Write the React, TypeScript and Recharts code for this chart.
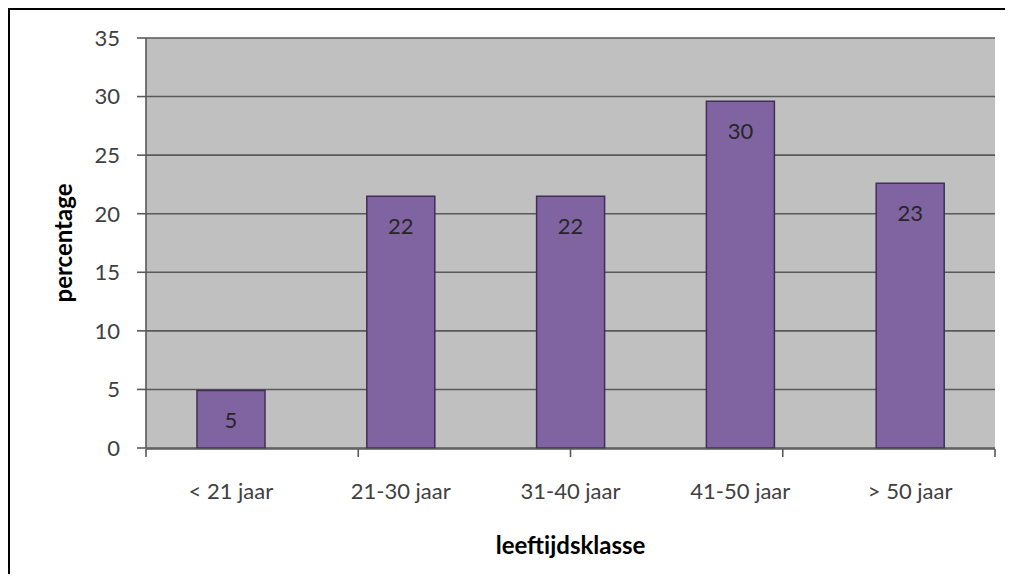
import { Bar, BarChart, CartesianGrid, LabelList, XAxis, YAxis } from "recharts";

const categories = ["< 21 jaar", "21-30 jaar", "31-40 jaar", "41-50 jaar", "> 50 jaar"];
const percentages = [4.9, 21.5, 21.5, 29.6, 22.6];
const yTicks = [0, 5, 10, 15, 20, 25, 30, 35];
const edgeTicks = [0, 1, 2, 3, 4, 5];

const data = categories.map((name, i) => ({ name, value: percentages[i] }));

const font = "Lato, 'Open Sans', sans-serif";
const tickStyle = { fontSize: 22, fill: "#404040", fontFamily: font };
const titleStyle = { fontSize: 24, fontWeight: "bold", fill: "#000", fontFamily: font };
const gridColor = "#595959";

export default function App() {
  return (
    <div style={{ position: "relative", width: 1005, height: 574, marginBottom: -8, overflow: "hidden" }}>
      <BarChart
        width={1005}
        height={574}
        data={data}
        accessibilityLayer={false}
        margin={{ top: 30, right: 18, left: 20, bottom: 25 }}
      >
        <CartesianGrid
          vertical={false}
          fill="#C0C0C0"
          stroke={gridColor}
          strokeWidth={1.6}
          xAxisId="cat"
        />
        <XAxis
          xAxisId="cat"
          dataKey="name"
          height={1}
          axisLine={false}
          tickLine={false}
          tickSize={0}
          tickMargin={35}
          tick={tickStyle}
          interval={0}
        />
        <XAxis
          xAxisId="edges"
          type="number"
          domain={[0, 5]}
          ticks={edgeTicks}
          allowDataOverflow
          height={108}
          stroke={gridColor}
          strokeWidth={1.6}
          tickSize={8}
          tickLine={{ stroke: gridColor, strokeWidth: 1.6 }}
          tickFormatter={() => ""}
          label={{
            value: "leeftijdsklasse",
            position: "insideBottom",
            offset: 3,
            style: titleStyle,
          }}
        />
        <YAxis
          domain={[0, 35]}
          ticks={yTicks}
          width={118}
          stroke={gridColor}
          strokeWidth={1.6}
          tickSize={9}
          tickMargin={17}
          tick={tickStyle}
          label={{
            content: ({ viewBox }: any) => {
              const cx = viewBox.x + 34;
              const cy = viewBox.y + viewBox.height / 2;
              return (
                <text
                  x={cx}
                  y={cy}
                  transform={`rotate(-90 ${cx} ${cy})`}
                  textAnchor="middle"
                  dominantBaseline="central"
                  style={titleStyle}
                >
                  percentage
                </text>
              );
            },
          }}
        />
        <Bar
          xAxisId="cat"
          dataKey="value"
          fill="#8064A2"
          stroke="#3f2f57"
          strokeWidth={1.5}
          barSize={68}
          isAnimationActive={false}
        >
          <LabelList
            dataKey="value"
            position="insideTop"
            offset={22}
            formatter={(v: any) => Math.round(Number(v))}
            style={{ fontSize: 22, fill: "#262626", fontFamily: font }}
          />
        </Bar>
      </BarChart>
      <div
        style={{
          position: "absolute",
          left: 0,
          top: 0,
          width: 1005,
          height: 574,
          borderTop: "2px solid #000",
          borderLeft: "2px solid #000",
          boxSizing: "border-box",
          pointerEvents: "none",
        }}
      />
    </div>
  );
}
